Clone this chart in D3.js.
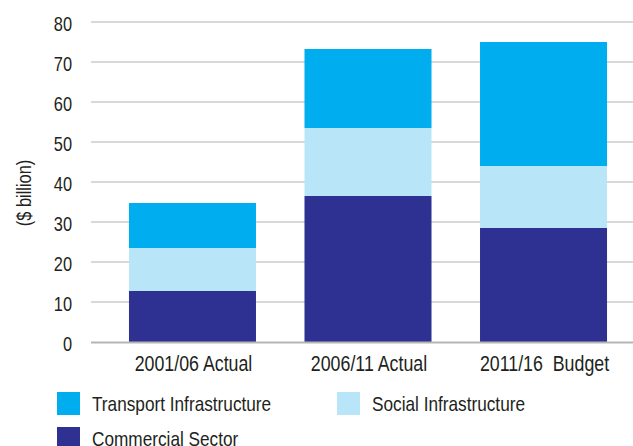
<!DOCTYPE html>
<html>
<head>
<meta charset="utf-8">
<script src="https://cdn.jsdelivr.net/npm/d3@7"></script>
<style>
    body { margin: 0; background: #ffffff; }
    text { font-family: "Liberation Sans", Arial, sans-serif; fill: #231f20; }
</style>
</head>
<body>
<div id="chart"></div>
<script>

const SVG_W = 633;
const SVG_H = 446;

const PLOT_X0 = 91;
const PLOT_X1 = 633;
const PLOT_Y0 = 342;   // value 0
const PLOT_Y1 = 22;    // value 80

const NARROW = 0.82;   // no condensed face installed, squeeze the regular one

const COLOR_TRANSPORT = "#00aeef";
const COLOR_SOCIAL = "#b9e5f9";
const COLOR_COMMERCIAL = "#2e3192";
const COLOR_GRID = "#cccccc";
const COLOR_BASE = "#b5b5b5";

// -------------------------------------------------

const categories = ["2001/06 Actual", "2006/11 Actual", "2011/16  Budget"];

const commercial = [12.75, 36.5, 28.5];
const social = [10.75, 17, 15.5];
const transport = [11.25, 19.75, 31];

const y_ticks = [0, 10, 20, 30, 40, 50, 60, 70, 80];

const series_names = ["Commercial Sector", "Social Infrastructure", "Transport Infrastructure"];

// -------------------------------------------------

function narrow(x, y) {
    return "translate(" + x + "," + y + ") scale(" + NARROW + ",1)";
}

let svg = d3.select("#chart")
                .append("svg")
                    .attr("width", SVG_W)
                    .attr("height", SVG_H);

let scaleX = d3.scaleBand()
                .domain(categories)
                .range([104.75, 631.25])
                .paddingInner(0.2764)
                .paddingOuter(0.138);

let scaleY = d3.scaleLinear()
                .domain([0, 80])
                .range([PLOT_Y0, PLOT_Y1]);

// -------------------------------------------------
// gridlines + y labels

svg.append("g")
    .selectAll("line")
    .data(y_ticks.filter(d => d > 0))
    .join("line")
        .attr("x1", PLOT_X0)
        .attr("x2", PLOT_X1)
        .attr("y1", d => scaleY(d))
        .attr("y2", d => scaleY(d))
        .attr("stroke", COLOR_GRID)
        .attr("stroke-width", 1.5);

svg.append("g")
    .selectAll("text")
    .data(y_ticks)
    .join("text")
        .attr("transform", d => narrow(72, scaleY(d) + 9))
        .attr("text-anchor", "end")
        .style("font-size", "20px")
        .text(d => d);

svg.append("text")
        .attr("transform", "translate(31, 193) rotate(-90) scale(" + NARROW + ",1)")
        .attr("text-anchor", "middle")
        .style("font-size", "20px")
        .text("($ billion)");

// -------------------------------------------------
// stacked bars

let rows = categories.map((c, i) => ({
    cat: c,
    "Commercial Sector": commercial[i],
    "Social Infrastructure": social[i],
    "Transport Infrastructure": transport[i]
}));

let stacked = d3.stack().keys(series_names)(rows);

let colors = d3.scaleOrdinal()
                .domain(series_names)
                .range([COLOR_COMMERCIAL, COLOR_SOCIAL, COLOR_TRANSPORT]);

svg.append("g")
    .selectAll("g")
    .data(stacked)
    .join("g")
        .attr("fill", d => colors(d.key))
    .selectAll("rect")
    .data(d => d)
    .join("rect")
        .attr("x", d => scaleX(d.data.cat))
        .attr("width", scaleX.bandwidth())
        .attr("y", d => scaleY(d[1]))
        .attr("height", d => scaleY(d[0]) - scaleY(d[1]));

// baseline over bars
svg.append("line")
        .attr("x1", PLOT_X0)
        .attr("x2", PLOT_X1)
        .attr("y1", scaleY(0) + 0.5)
        .attr("y2", scaleY(0) + 0.5)
        .attr("stroke", COLOR_BASE)
        .attr("stroke-width", 2);

// -------------------------------------------------
// category labels

svg.append("g")
    .selectAll("text")
    .data(categories)
    .join("text")
        .attr("transform", d => narrow(scaleX(d) + scaleX.bandwidth() / 2 + 1, 371))
        .attr("text-anchor", "middle")
        .style("font-size", "21.7px")
        .style("white-space", "pre")
        .text(d => d);

// -------------------------------------------------
// legend

let legend = [
    { key: "Transport Infrastructure", x: 57, y: 392 },
    { key: "Social Infrastructure", x: 337, y: 392 },
    { key: "Commercial Sector", x: 57, y: 427 }
];

let lg = svg.append("g")
    .selectAll("g")
    .data(legend)
    .join("g")
        .attr("transform", d => "translate(" + d.x + "," + d.y + ")");

lg.append("rect")
        .attr("width", 23)
        .attr("height", 23)
        .attr("fill", d => colors(d.key));

lg.append("text")
        .attr("transform", narrow(35, 18.5))
        .style("font-size", "21px")
        .text(d => d.key);

</script>
</body>
</html>
